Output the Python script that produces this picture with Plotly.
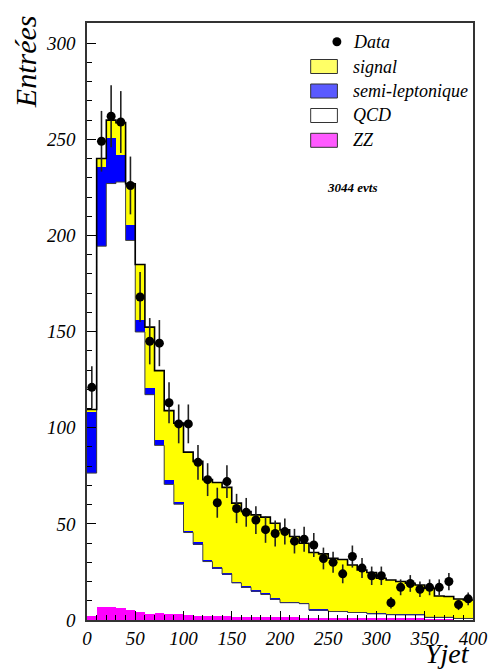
import numpy as np
import plotly.graph_objects as go

# ---------------- data ----------------
bin_edges = list(range(0, 410, 10))          # Yjet bins 0..400, width 10
bin_width = 10

data_counts = [121, 249, 262, 259, 226, 168, 145, 144, 113, 102,
               102, 82, 73, 61, 72, 58, 56, 52, 47, 45,
               46, 41, 42, 39, 32, 30, 24, 33, 27, 23,
               23, 9, 17, 19, 16, 17, 17, 20, 8, 11]

zz = [2.1, 6.9, 6.6, 6.1, 5.2, 4.0, 3.1, 3.5, 3.1, 2.9,
      2.6, 2.3, 2.1, 2.0, 1.9, 1.8, 1.7, 1.6, 1.5, 1.5,
      1.4, 1.4, 1.3, 1.2, 1.2, 1.1, 1.1, 1.0, 1.0, 0.9,
      0.9, 0.9, 0.8, 0.8, 0.8, 0.6, 0.6, 0.6, 0.4, 0.4]

qcd = [74.3, 187.5, 220.4, 221.7, 192.2, 145.8, 114.1, 87.3, 67.4, 57.3,
       42.9, 37.1, 28.3, 25.0, 22.0, 17.5, 15.3, 13.4, 11.8, 9.3,
       7.6, 7.6, 7.2, 3.9, 3.9, 3.3, 3.3, 2.9, 2.9, 2.3,
       2.3, 1.85, 1.85, 1.85, 1.85, 0.8, 0.8, 0.8, 0.4, 0.4]

semi_lep = [31.8, 41.0, 23.9, 14.2, 8.3, 6.4, 3.3, 2.6, 2.1, 1.4,
            1.0, 1.0, 0.9, 0.8, 0.8, 0.7, 0.7, 0.6, 0.6, 0.5,
            0.5, 0.5, 0.5, 0.4, 0.4, 0.4, 0.4, 0.4, 0.4, 0.3,
            0.3, 0.3, 0.3, 0.3, 0.3, 0.3, 0.3, 0.3, 0.2, 0.2]

signal = [1.3, 4.6, 9.1, 16.7, 21.2, 28.7, 31.8, 36.3, 36.3, 40.8,
          40.8, 42.1, 41.7, 43.7, 44.3, 40.8, 38.7, 39.1, 39.6, 39.0,
          37.4, 33.9, 30.9, 29.6, 28.9, 27.3, 26.7, 24.3, 21.7, 21.2,
          18.2, 17.75, 17.05, 16.15, 15.25, 14.8, 10.8, 10.5, 9.9, 9.4]

legend_labels = ["Data", "signal", "semi-leptonique", "QCD", "ZZ"]
n_events_text = "3044 evts"
x_title = "Yjet"
y_title = "Entrées"
x_ticks = [0, 50, 100, 150, 200, 250, 300, 350, 400]
y_ticks = [0, 50, 100, 150, 200, 250, 300]

# ---------------- derived ----------------
edges = np.array(bin_edges, dtype=float)
centers = 0.5 * (edges[:-1] + edges[1:])
zz_a = np.array(zz)
qcd_a = np.array(qcd)
semi_a = np.array(semi_lep)
sig_a = np.array(signal)
cum_qcd = zz_a + qcd_a
cum_total = zz_a + qcd_a + semi_a + sig_a
data_a = np.array(data_counts, dtype=float)
data_err = np.sqrt(data_a)

SERIF = "Liberation Serif, Times New Roman, Times, DejaVu Serif, serif"

fig = go.Figure()

# stacked histograms (bottom to top)
for vals, col in [(zz_a, "#ff00ff"), (qcd_a, "#ffffff"),
                  (semi_a, "#0000ff"), (sig_a, "#ffff00")]:
    fig.add_trace(go.Bar(x=centers, y=vals, width=bin_width,
                         marker=dict(color=col, line=dict(width=0)),
                         showlegend=False, hoverinfo="skip"))

def step(vals):
    return list(edges), list(vals) + [vals[-1]]

sx, sy = step(cum_qcd)
fig.add_trace(go.Scatter(x=sx, y=sy, mode="lines", line=dict(color="#404040", width=1, shape="hv"),
                         showlegend=False, hoverinfo="skip"))
sx, sy = step(cum_total)
fig.add_trace(go.Scatter(x=sx, y=sy, mode="lines", line=dict(color="black", width=1.6, shape="hv"),
                         showlegend=False, hoverinfo="skip"))

# data points
fig.add_trace(go.Scatter(x=centers, y=data_a, mode="markers",
                         marker=dict(color="black", size=9, symbol="circle"),
                         error_y=dict(type="data", array=data_err, visible=True,
                                      color="#222222", thickness=1.6, width=0),
                         showlegend=False))

# ---------------- layout ----------------
W, H = 500, 671
L, R, T, B = 87, 23, 23, 51
pw, ph = W - L - R, H - T - B

def px(xp):
    return (xp - L) / pw

def py(yp):
    return (H - B - yp) / ph

tickfont = dict(family=SERIF, size=19, color="black", style="italic")

fig.update_layout(
    width=W, height=H,
    margin=dict(l=L, r=R, t=T, b=B, pad=0),
    paper_bgcolor="white", plot_bgcolor="white",
    barmode="stack", bargap=0,
    showlegend=False,
    font=dict(family=SERIF),
    xaxis=dict(range=[0, 400], tickvals=x_ticks, ticktext=[str(v) for v in x_ticks],
               ticks="inside", ticklen=9, tickwidth=1, tickcolor="black",
               minor=dict(ticks="inside", ticklen=5, tickwidth=1, tickcolor="black", dtick=10),
               showline=True, linecolor="#333333", linewidth=1.5, mirror=True,
               showgrid=False, zeroline=False, tickfont=tickfont, ticklabelstandoff=0),
    yaxis=dict(range=[0, 310.5], tickvals=y_ticks, ticktext=[str(v) for v in y_ticks],
               ticks="inside", ticklen=9, tickwidth=1, tickcolor="black",
               minor=dict(ticks="inside", ticklen=5, tickwidth=1, tickcolor="black", dtick=10),
               showline=True, linecolor="#333333", linewidth=1.5, mirror=True,
               showgrid=False, zeroline=False, tickfont=tickfont, ticklabelstandoff=6),
)

annotations = []
# axis titles
annotations.append(dict(text=y_title, xref="paper", yref="paper", x=px(25), y=py(13),
                        xanchor="center", yanchor="top", textangle=-90, showarrow=False,
                        font=dict(family=SERIF, size=30, color="black", style="italic")))
annotations.append(dict(text=x_title, xref="paper", yref="paper", x=px(476), y=py(671),
                        xanchor="right", yanchor="bottom", showarrow=False,
                        font=dict(family=SERIF, size=28, color="black", style="italic")))
# event count
annotations.append(dict(text="<b><i>" + n_events_text + "</i></b>", xref="paper", yref="paper",
                        x=px(355), y=py(187), xanchor="center", yanchor="middle", showarrow=False,
                        font=dict(family=SERIF, size=13, color="black")))

# manual ROOT-style legend
shapes = []
row_y = [41.7, 66.5, 91.0, 115.5, 140.3]
box_cols = ["#ffff66", "#5a5aff", "#ffffff", "#ff5aff"]
for i, lab in enumerate(legend_labels):
    yc = row_y[i]
    annotations.append(dict(text=lab, xref="paper", yref="paper", x=px(354), y=py(yc),
                            xanchor="left", yanchor="middle", showarrow=False,
                            font=dict(family=SERIF, size=18, color="black", style="italic")))
    if i == 0:
        shapes.append(dict(type="circle", xref="paper", yref="paper",
                           x0=px(335), x1=px(344), y0=py(yc + 4.5), y1=py(yc - 4.5),
                           fillcolor="black", line=dict(color="black", width=0)))
    else:
        shapes.append(dict(type="rect", xref="paper", yref="paper",
                           x0=px(313), x1=px(340), y0=py(yc + 7), y1=py(yc - 7),
                           fillcolor=box_cols[i - 1], line=dict(color="#333333", width=1)))

fig.update_layout(annotations=annotations, shapes=shapes)

# remove the browser's default 8px body margin so the figure sits at the page origin
fig.write_html("out.html", config={"displayModeBar": False},
               post_script="document.body.style.margin='0';document.body.style.padding='0';")
